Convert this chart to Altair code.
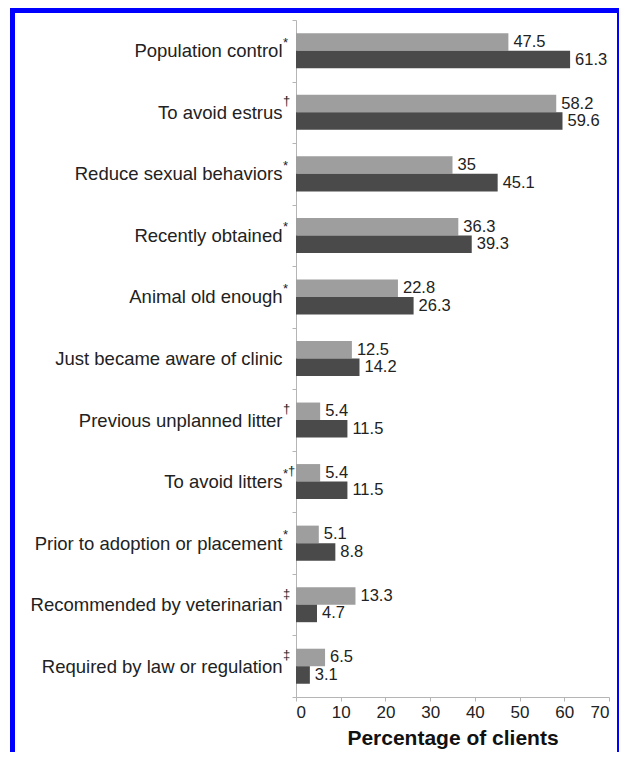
import altair as alt
import pandas as pd

categories = [
    "Population control",
    "To avoid estrus",
    "Reduce sexual behaviors",
    "Recently obtained",
    "Animal old enough",
    "Just became aware of clinic",
    "Previous unplanned litter",
    "To avoid litters",
    "Prior to adoption or placement",
    "Recommended by veterinarian",
    "Required by law or regulation",
]
marks = ["*", "†", "*", "*", "*", "", "†", "*†", "*", "‡", "‡"]
series_a = [47.5, 58.2, 35, 36.3, 22.8, 12.5, 5.4, 5.4, 5.1, 13.3, 6.5]   # light bars
series_b = [61.3, 59.6, 45.1, 39.3, 26.3, 14.2, 11.5, 11.5, 8.8, 4.7, 3.1]  # dark bars
series_names = ["A", "B"]

rows = []
for c, a, b in zip(categories, series_a, series_b):
    rows.append({"category": c, "series": "A", "value": a, "label": f"{a:g}"})
    rows.append({"category": c, "series": "B", "value": b, "label": f"{b:g}"})
df = pd.DataFrame(rows)

sup_rows = []
for c, m in zip(categories, marks):
    for k, ch in enumerate(m):
        sup_rows.append({"category": c, "sym": ch, "pos": k})
sup_df = pd.DataFrame(sup_rows)

FONT = "Liberation Sans"
TXT = "#222222"
AX = "#b5b5b5"

yenc = alt.Y(
    "category:N",
    sort=categories,
    scale=alt.Scale(paddingInner=0, paddingOuter=0),
    axis=alt.Axis(
        title=None,
        labelFont=FONT,
        labelFontSize=18.5,
        labelColor=TXT,
        labelPadding=10,
        tickSize=4,
        tickColor=AX,
        domainColor=AX,
        tickBand="extent",
        labelLimit=400,
    ),
)
xenc = alt.X(
    "value:Q",
    scale=alt.Scale(domain=[0, 70], nice=False),
    axis=alt.Axis(
        title="Percentage of clients",
        values=[0, 10, 20, 30, 40, 50, 60, 70],
        grid=False,
        labelFont=FONT,
        labelFontSize=17,
        labelColor=TXT,
        labelPadding=3,
        tickSize=4,
        tickColor=AX,
        domainColor=AX,
        titleFont=FONT,
        titleFontSize=21,
        titleFontWeight="bold",
        titleColor="#111111",
        titlePadding=7,
    ),
)
yoff = alt.YOffset(
    "series:N",
    sort=series_names,
    scale=alt.Scale(paddingInner=0, paddingOuter=0.757),
)

base = alt.Chart(df)
bars = base.mark_bar().encode(
    x=xenc,
    y=yenc,
    yOffset=yoff,
    color=alt.Color(
        "series:N",
        sort=series_names,
        scale=alt.Scale(domain=series_names, range=["#9e9e9e", "#4a4a4a"]),
        legend=None,
    ),
)
vals = base.mark_text(
    align="left", baseline="middle", dx=5, font=FONT, fontSize=16.5, color=TXT
).encode(
    x="value:Q",
    y=alt.Y("category:N", sort=categories),
    yOffset=alt.YOffset("series:N", sort=series_names),
    text="label:N",
)


def sup_layer(sym, pos, dy):
    return (
        alt.Chart(sup_df)
        .transform_filter((alt.datum.sym == sym) & (alt.datum.pos == pos))
        .mark_text(
            align="left",
            baseline="alphabetic",
            dy=dy,
            font=FONT,
            fontSize=13,
            color=TXT,
        )
        .encode(
            x=alt.value(-13 + 5 * pos),
            y=alt.Y("category:N", sort=categories),
            text="sym:N",
        )
    )


sups = [
    sup_layer("*", 0, -4),
    sup_layer("†", 0, -7),
    sup_layer("‡", 0, -7),
    sup_layer("†", 1, -7),
]

one = alt.Chart(pd.DataFrame({"k": [0]}))
frame_left = one.mark_rect(color="#0000ff").encode(
    x=alt.value(-286), x2=alt.value(-281), y=alt.value(-13), y2=alt.value(800)
)
frame_top = one.mark_rect(color="#0000ff").encode(
    x=alt.value(-286), x2=alt.value(323), y=alt.value(-13), y2=alt.value(-7)
)
frame_right = one.mark_rect(color="#0000ff").encode(
    x=alt.value(321), x2=alt.value(323), y=alt.value(-13), y2=alt.value(800)
)

chart = (
    alt.layer(bars, vals, *sups, frame_left, frame_top, frame_right)
    .properties(
        width=313,
        height=677,
        autosize=alt.AutoSizeParams(type="none"),
        padding={"left": 288, "top": 12, "right": 10, "bottom": 55},
        background="white",
    )
    .configure_view(stroke=None)
)

chart.save("out.html", embed_options={"renderer": "svg", "actions": False})
